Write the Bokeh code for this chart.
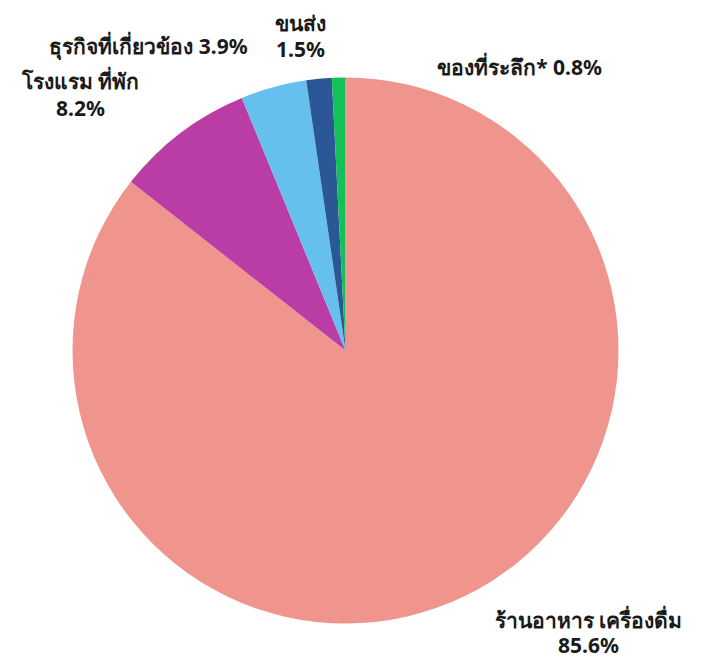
from bokeh.plotting import figure
from bokeh.models import ColumnDataSource, Range1d
from bokeh.core.properties import value
from bokeh.embed import file_html
from bokeh.resources import INLINE
import numpy as np

categories = ["ร้านอาหาร เครื่องดื่ม", "โรงแรม ที่พัก", "ธุรกิจที่เกี่ยวข้อง", "ขนส่ง", "ของที่ระลึก*"]
shares = [85.6, 8.2, 3.9, 1.5, 0.8]
colors = ["#EF958E", "#BA3DA6", "#65C0EE", "#2B5796", "#14C157"]
label_lines = ["ร้านอาหาร เครื่องดื่ม", "85.6%", "โรงแรม ที่พัก", "8.2%",
               "ธุรกิจที่เกี่ยวข้อง 3.9%", "ขนส่ง", "1.5%", "ของที่ระลึก* 0.8%"]

W, H = 702, 662
cx, cy, r = 345, H - 350, 273

vals = np.array(shares)
frac = vals / vals.sum()
cum = np.concatenate([[0], np.cumsum(frac)])
start = np.pi / 2 - cum[1:] * 2 * np.pi
end = np.pi / 2 - cum[:-1] * 2 * np.pi

src = ColumnDataSource(dict(x=[cx] * len(vals), y=[cy] * len(vals), start=start, end=end, color=colors, cat=categories))

p = figure(width=W, height=H, output_backend="svg", toolbar_location=None,
           x_range=Range1d(0, W), y_range=Range1d(0, H), min_border=0)
p.axis.visible = False
p.grid.visible = False
p.outline_line_color = None
p.background_fill_color = "white"
p.border_fill_color = "white"

p.wedge(x="x", y="y", radius=r, start_angle="start", end_angle="end", color="color",
        line_color=None, direction="anticlock", source=src)

# label positions (pixel coords from top-left)
lx = [588, 588, 80, 80, 148, 300, 300, 519]
ly = [619, 644, 80, 107, 45, 22, 48, 66]
lab = ColumnDataSource(dict(x=lx, y=[H - v for v in ly], t=label_lines))
p.text(x="x", y="y", text="t", source=lab, text_align="center", text_baseline="middle",
       text_font=value("Noto Sans"), text_font_style="bold", text_font_size="21px",
       text_color="#1a1a1a")

open("out.html", "w").write(file_html(p, INLINE))
